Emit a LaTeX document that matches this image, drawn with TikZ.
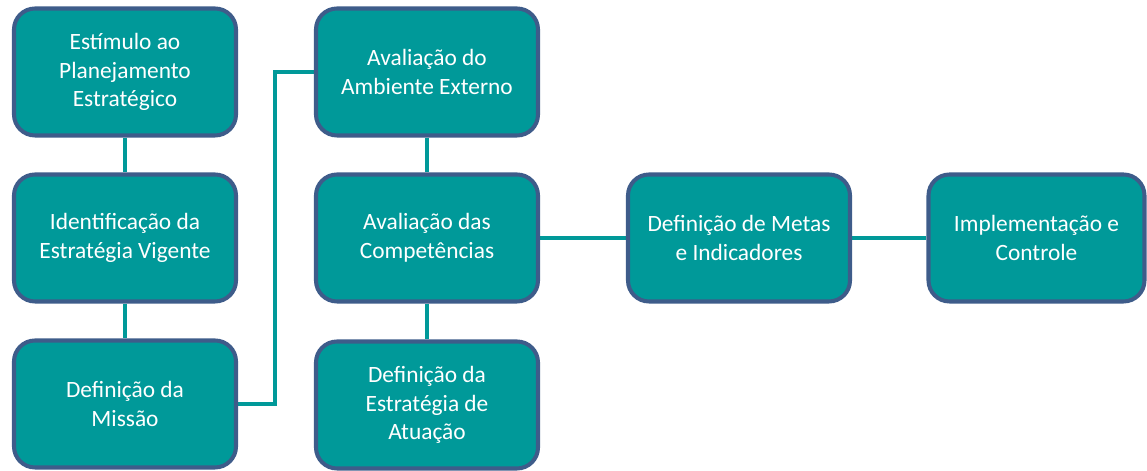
\documentclass[tikz,border=0pt]{standalone}
\usepackage{fontspec}
\setmainfont{Carlito}
\usepackage{xcolor}
\usetikzlibrary{backgrounds}

\definecolor{stepfill}{RGB}{0,153,153}
\definecolor{stepline}{RGB}{62,92,138}

\begin{document}
\begin{tikzpicture}[
	etapa/.style={draw=stepline, fill=stepfill, line width=2.3pt, rounded corners=0.42cm,
		minimum width=4.44cm, minimum height=2.54cm, align=center, text=white,
		font=\fontsize{13.3}{16.2}\selectfont},
	ligacao/.style={draw=stepfill, line width=2.8pt}
]

\useasboundingbox (0,0) rectangle (22.94,9.42);

% primeira coluna
\node[etapa] (estimulo) at (2.5,7.98) {Estímulo ao\\Planejamento\\Estratégico};
\node[etapa] (vigente) at (2.5,4.66) {Identificação da\\Estratégia Vigente};
\node[etapa] (missao) at (2.5,1.34) {Definição da\\Missão};

% segunda coluna
\node[etapa] (externo) at (8.54,7.98) {Avaliação do\\Ambiente Externo};
\node[etapa] (competencias) at (8.54,4.66) {Avaliação das\\Competências};
\node[etapa] (atuacao) at (8.54,1.32) {Definição da\\Estratégia de\\Atuação};

% linha horizontal
\node[etapa] (metas) at (14.78,4.66) {Definição de Metas\\e Indicadores};
\node[etapa, minimum width=4.32cm] (controle) at (20.73,4.66) {Implementação e\\Controle};

\coordinate (dobra) at (5.5,0);

\begin{scope}[on background layer]
\draw[ligacao] (estimulo) -- (vigente);
\draw[ligacao] (vigente) -- (missao);
\draw[ligacao] (missao.east) -- (missao.east -| dobra) |- (externo.west);
\draw[ligacao] (externo) -- (competencias);
\draw[ligacao] (competencias) -- (atuacao);
\draw[ligacao] (competencias) -- (metas);
\draw[ligacao] (metas) -- (controle);
\end{scope}

\end{tikzpicture}
\end{document}
